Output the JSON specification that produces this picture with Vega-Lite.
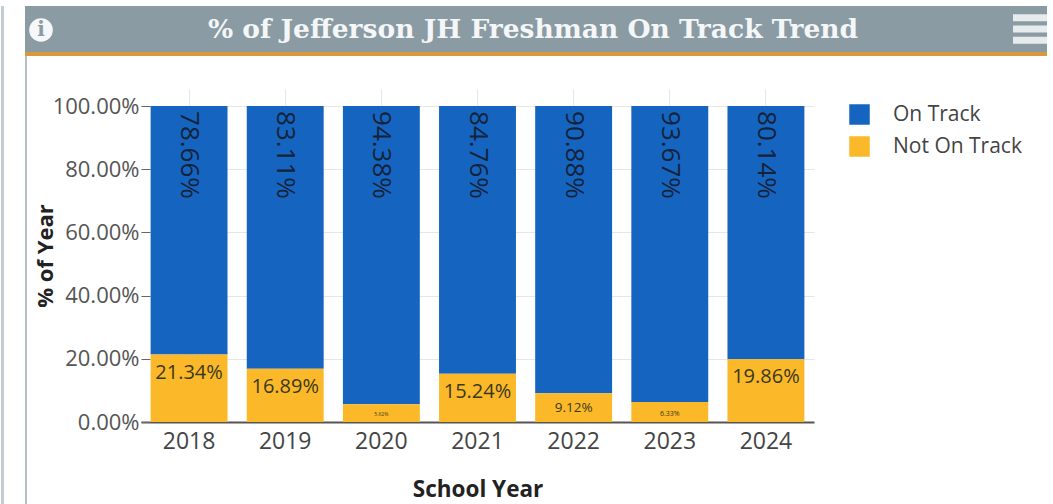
{
  "$schema": "https://vega.github.io/schema/vega-lite/v6.json",
  "background": "white",
  "padding": {"left": 0, "top": 5, "right": 0, "bottom": 0},
  "bounds": "flush",
  "spacing": 21,
  "datasets": {
    "trend": [
      {"year": "2018", "status": "On Track", "pct": 78.66, "label": "78.66%"},
      {"year": "2019", "status": "On Track", "pct": 83.11, "label": "83.11%"},
      {"year": "2020", "status": "On Track", "pct": 94.38, "label": "94.38%"},
      {"year": "2021", "status": "On Track", "pct": 84.76, "label": "84.76%"},
      {"year": "2022", "status": "On Track", "pct": 90.88, "label": "90.88%"},
      {"year": "2023", "status": "On Track", "pct": 93.67, "label": "93.67%"},
      {"year": "2024", "status": "On Track", "pct": 80.14, "label": "80.14%"},
      {"year": "2018", "status": "Not On Track", "pct": 21.34, "label": "21.34%"},
      {"year": "2019", "status": "Not On Track", "pct": 16.89, "label": "16.89%"},
      {"year": "2020", "status": "Not On Track", "pct": 5.62, "label": "5.62%"},
      {"year": "2021", "status": "Not On Track", "pct": 15.24, "label": "15.24%"},
      {"year": "2022", "status": "Not On Track", "pct": 9.12, "label": "9.12%"},
      {"year": "2023", "status": "Not On Track", "pct": 6.33, "label": "6.33%"},
      {"year": "2024", "status": "Not On Track", "pct": 19.86, "label": "19.86%"}
    ],
    "heading": [{"label": "% of Jefferson JH Freshman On Track Trend"}],
    "menu": [{"row": 1}, {"row": 2}, {"row": 3}]
  },
  "config": {
    "view": {"stroke": null},
    "font": "Open Sans"
  },
  "hconcat": [
    {"width": 3, "height": 499, "view": {"fill": "#c3ccd1"}, "data": {"name": "heading"}, "mark": {"type": "rule", "opacity": 0}, "encoding": {}},
    {
      "bounds": "flush",
      "spacing": 0,
      "vconcat": [
        {
          "width": 1022,
          "height": 46,
          "view": {"fill": "#8a9ba3"},
          "layer": [
            {
              "data": {"name": "heading"},
              "mark": {"type": "text", "font": "DejaVu Serif", "fontWeight": "bold", "fontSize": 26.5, "color": "#f4f6f7", "dx": -3, "dy": 1},
              "encoding": {"text": {"field": "label"}}
            },
            {
              "data": {"name": "heading"},
              "mark": {"type": "circle", "size": 560, "color": "#f6f7f8", "opacity": 1, "xOffset": -495, "yOffset": 1},
              "encoding": {}
            },
            {
              "data": {"values": [{"glyph": "i"}]},
              "mark": {"type": "text", "font": "DejaVu Serif", "fontWeight": "bold", "fontSize": 20, "color": "#8a9ba3", "dx": -495, "dy": 1},
              "encoding": {"text": {"field": "glyph"}}
            },
            {
              "data": {"name": "menu"},
              "mark": {"type": "bar", "color": "#e6ebee", "height": 7},
              "encoding": {
                "y": {"field": "row", "type": "ordinal", "axis": null, "scale": {"paddingOuter": 0.55, "paddingInner": 0}},
                "x": {"datum": 988, "type": "quantitative", "axis": null, "scale": {"domain": [0, 1022]}},
                "x2": {"datum": 1022}
              }
            }
          ]
        },
        {"width": 1022, "height": 4, "view": {"fill": "#d99a3a"}, "data": {"name": "heading"}, "mark": {"type": "rule", "opacity": 0}, "encoding": {}},
        {
          "bounds": "flush",
          "spacing": 114,
          "hconcat": [
            {"width": 2, "height": 449, "view": {"fill": "#b5c0c5"}, "data": {"name": "heading"}, "mark": {"type": "rule", "opacity": 0}, "encoding": {}},
            {
              "bounds": "flush",
              "spacing": 32,
              "vconcat": [
                {"width": 673, "height": 1, "data": {"name": "heading"}, "mark": {"type": "rule", "opacity": 0}, "encoding": {}},
                {
                  "width": 673,
                  "height": 333,
                  "data": {"name": "trend"},
                  "encoding": {
                    "x": {
                      "field": "year",
                      "type": "nominal",
                      "scale": {"paddingInner": 0.2, "paddingOuter": 0.1},
                      "axis": {
                        "title": "School Year",
                        "titleFont": "Open Sans",
                        "titleFontSize": 22.5,
                        "titleFontWeight": "bold",
                        "titleColor": "#222222",
                        "titlePadding": 25,
                        "labelAngle": 0,
                        "labelFontSize": 23,
                        "labelColor": "#444444",
                        "labelPadding": 8,
                        "ticks": false,
                        "domainColor": "#555555",
                        "domainWidth": 2,
                        "grid": true,
                        "gridColor": "#e6e6e6"
                      }
                    }
                  },
                  "layer": [
                    {
                      "mark": {"type": "bar"},
                      "encoding": {
                        "y": {
                          "field": "pct",
                          "type": "quantitative",
                          "stack": "zero",
                          "scale": {"domain": [0, 105.4], "nice": false},
                          "axis": {
                            "title": "% of Year",
                            "titleFont": "Open Sans",
                            "titleFontSize": 22,
                            "titleFontWeight": "bold",
                            "titleColor": "#222222",
                            "titlePadding": -5,
                            "values": [0, 20, 40, 60, 80, 100],
                            "labelExpr": "format(datum.value, '.2f') + '%'",
                            "labelFontSize": 22,
                            "labelColor": "#555555",
                            "labelPadding": 2,
                            "tickColor": "#666666",
                            "tickSize": 9,
                            "offset": -9,
                            "domain": false,
                            "grid": true,
                            "gridColor": "#e6e6e6"
                          }
                        },
                        "color": {
                          "field": "status",
                          "type": "nominal",
                          "scale": {"domain": ["On Track", "Not On Track"], "range": ["#1565c0", "#fbb829"]},
                          "legend": {
                            "title": null,
                            "orient": "none",
                            "legendX": 848,
                            "legendY": 98,
                            "symbolType": "square",
                            "symbolSize": 420,
                            "symbolStrokeWidth": 0,
                            "labelFontSize": 21,
                            "labelColor": "#444444",
                            "labelOffset": 23,
                            "rowPadding": 10
                          }
                        },
                        "order": {"field": "status", "sort": "ascending"}
                      }
                    },
                    {
                      "transform": [{"filter": "datum.status === 'On Track'"}],
                      "mark": {"type": "text", "angle": 90, "align": "left", "baseline": "middle", "fontSize": 26, "color": "#14233a", "dx": 5},
                      "encoding": {
                        "y": {"datum": 100},
                        "text": {"field": "label"}
                      }
                    },
                    {
                      "transform": [{"filter": "datum.status === 'Not On Track'"}],
                      "mark": {"type": "text", "align": "center", "baseline": "top", "color": "#3a3a1a", "dy": 8},
                      "encoding": {
                        "y": {"field": "pct", "type": "quantitative", "stack": null},
                        "size": {
                          "field": "pct",
                          "type": "quantitative",
                          "legend": null,
                          "scale": {"type": "threshold", "domain": [6, 7, 10], "range": [5, 7, 13.5, 20]}
                        },
                        "text": {"field": "label"}
                      }
                    }
                  ]
                }
              ]
            }
          ]
        }
      ]
    }
  ]
}
